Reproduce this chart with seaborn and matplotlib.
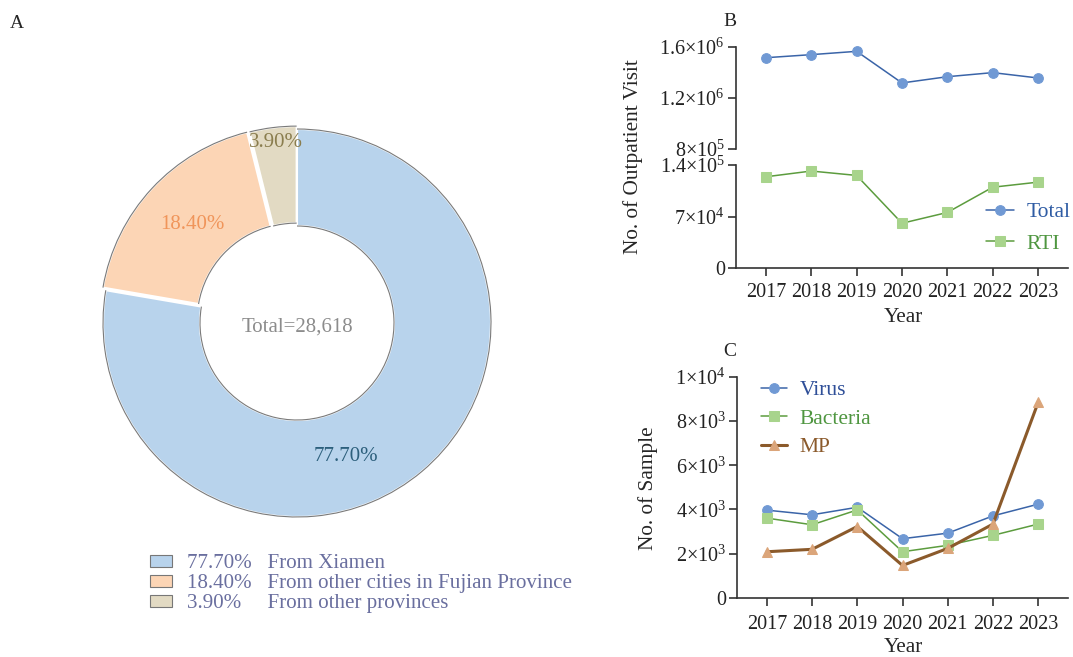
import matplotlib
matplotlib.use("Agg")
import matplotlib.pyplot as plt
from matplotlib.patches import Arc, Patch
import seaborn as sns

# ---- data ----
years = [2017, 2018, 2019, 2020, 2021, 2022, 2023]
total_visits = [1516000, 1540000, 1566000, 1318000, 1367000, 1399000, 1357000]
rti_visits = [124000, 131800, 125800, 60800, 75500, 109800, 116700]

virus = [3970, 3760, 4100, 2680, 2930, 3710, 4240]
bacteria = [3610, 3310, 3980, 2090, 2380, 2830, 3340]
mp = [2090, 2200, 3230, 1470, 2240, 3340, 8840]

origin_share = [77.7, 18.4, 3.9]
origin_names = ["From Xiamen", "From other cities in Fujian Province", "From other provinces"]
total_samples = 28618

top_ticks = [8e5, 1.2e6, 1.6e6]
top_ticklabels = ["8×10$^{5}$", "1.2×10$^{6}$", "1.6×10$^{6}$"]
low_ticks = [0, 7e4, 1.4e5]
low_ticklabels = ["0", "7×10$^{4}$", "1.4×10$^{5}$"]
c_ticks = [0, 2000, 4000, 6000, 8000, 10000]
c_ticklabels = ["0", "2×10$^{3}$", "4×10$^{3}$", "6×10$^{3}$", "8×10$^{3}$", "1×10$^{4}$"]

sns.set_style("ticks")
plt.rcParams["font.family"] = ["Liberation Serif", "DejaVu Serif"]
plt.rcParams["mathtext.fontset"] = "custom"
plt.rcParams["mathtext.rm"] = "Liberation Serif"
plt.rcParams["mathtext.it"] = "Liberation Serif:italic"

W, H = 1073, 657
fig = plt.figure(figsize=(W / 100, H / 100), dpi=100)


def px_axes(x0, y0, x1, y1):
    # pixel box (top-left origin) -> figure fraction axes
    return fig.add_axes([x0 / W, 1 - y1 / H, (x1 - x0) / W, (y1 - y0) / H])


spine_col = "#333333"

# ---- panel A: donut ----
pie_cols = ["#b8d3ec", "#fcd5b5", "#e2dac3"]
pct_cols = ["#2c5f7c", "#f0955a", "#8a7d4e"]
ax_a = px_axes(97, 123, 497, 523)
wedges, _ = ax_a.pie(origin_share, colors=pie_cols, startangle=90, counterclock=False,
                     explode=[0, 0.02, 0.015], radius=1,
                     wedgeprops=dict(width=0.5, edgecolor="white", linewidth=1.5))
for w in wedges:
    cx, cy = w.center
    for rr in [w.r, w.r - w.width]:
        ax_a.add_patch(Arc((cx, cy), 2 * rr, 2 * rr, theta1=w.theta1, theta2=w.theta2,
                           color="#7a7a7a", lw=0.8))
ax_a.set_xlim(-1.031, 1.031)
ax_a.set_ylim(-1.031, 1.031)
ax_a.axis("off")

label_pos = [(0.25, -0.69), (-0.54, 0.51), (-0.11, 0.93)]
for share, pos, col in zip(origin_share, label_pos, pct_cols):
    ax_a.text(pos[0], pos[1], f"{share:.2f}%", color=col, fontsize=15, ha="center", va="center")
ax_a.text(0, -0.02, f"Total={total_samples:,}", color="#8c8c8c", fontsize=15,
          ha="center", va="center")

leg_labels = [f"{s:.2f}%   {n}" if s >= 10 else f"{s:.2f}%     {n}"
              for s, n in zip(origin_share, origin_names)]
leg_handles = [Patch(facecolor=c, edgecolor="#777777", lw=0.8) for c in pie_cols]
leg_a = fig.legend(leg_handles, leg_labels, loc="upper left", bbox_to_anchor=(150 / W, 1 - 554 / H),
                   frameon=False, fontsize=15.1, handlelength=1.05, handleheight=0.5,
                   handletextpad=0.7, labelspacing=0.05, borderaxespad=0, borderpad=0)
for t in leg_a.get_texts():
    t.set_color("#6a6f9f")

fig.text(17 / W, 1 - 23 / H, "A", fontsize=14, ha="center", va="center")
fig.text(730 / W, 1 - 21 / H, "B", fontsize=14, ha="center", va="center")
fig.text(730 / W, 1 - 352 / H, "C", fontsize=14, ha="center", va="center")


def style_axis(ax, ticks, ticklabels, lim):
    ax.set_ylim(*lim)
    ax.set_yticks(ticks)
    ax.set_yticklabels(ticklabels)
    ax.set_xlim(2016.34, 2023.66)
    for s in ["top", "right"]:
        ax.spines[s].set_visible(False)
    for s in ["left", "bottom"]:
        ax.spines[s].set_color(spine_col)
        ax.spines[s].set_linewidth(1.2)
    ax.tick_params(direction="out", length=6, width=1.2, color=spine_col,
                   labelsize=14.5, pad=2, labelcolor="#222222")
    ax.set_xlabel("")
    ax.set_ylabel("")


blue_line, blue_mk = "#3a64a8", "#7099d4"
green_line, green_mk = "#5c9c3e", "#a8d48c"
brown_line, brown_mk = "#8b5a2b", "#dba57a"

# ---- panel B: broken axis ----
ax_top = px_axes(736, 47, 1068, 149)
ax_low = px_axes(736, 165, 1068, 268)
sns.lineplot(x=years, y=total_visits, ax=ax_top, color=blue_line, linewidth=1.1, marker="o",
             markersize=7, markerfacecolor=blue_mk, markeredgecolor=blue_mk,
             label="Total", legend=False, clip_on=False)
sns.lineplot(x=years, y=rti_visits, ax=ax_low, color=green_line, linewidth=1.1, marker="s",
             markersize=6.5, markerfacecolor=green_mk, markeredgecolor=green_mk,
             label="RTI", legend=False, clip_on=False)
style_axis(ax_top, top_ticks, top_ticklabels, (8e5, 1.6e6))
style_axis(ax_low, low_ticks, low_ticklabels, (0, 1.4e5))
ax_top.spines["bottom"].set_visible(False)
ax_top.tick_params(axis="x", bottom=False, labelbottom=False)
ax_low.set_xticks(years)
ax_low.set_xticklabels([str(y) for y in years])
ax_low.tick_params(axis="x", pad=5)

hb = ax_top.get_lines() + ax_low.get_lines()
leg_b = fig.legend(hb, ["Total", "RTI"], loc="center left", bbox_to_anchor=(986 / W, 1 - 228 / H),
                   frameon=False, fontsize=15.5, handlelength=1.3, handletextpad=0.6,
                   labelspacing=0.55, borderaxespad=0, borderpad=0)
for t, c in zip(leg_b.get_texts(), ["#2f5ca4", "#4f9640"]):
    t.set_color(c)

fig.text(633 / W, 1 - 157 / H, "No. of Outpatient Visit", rotation=90, fontsize=15.3,
         ha="center", va="center")
fig.text(903 / W, 1 - 318 / H, "Year", fontsize=15.3, ha="center", va="center")

# ---- panel C ----
ax_c = px_axes(737, 376.7, 1068, 598)
sns.lineplot(x=years, y=virus, ax=ax_c, color=blue_line, linewidth=1.1, marker="o",
             markersize=7, markerfacecolor=blue_mk, markeredgecolor=blue_mk,
             label="Virus", legend=False, clip_on=False)
sns.lineplot(x=years, y=bacteria, ax=ax_c, color=green_line, linewidth=1.1, marker="s",
             markersize=6.5, markerfacecolor=green_mk, markeredgecolor=green_mk,
             label="Bacteria", legend=False, clip_on=False)
sns.lineplot(x=years, y=mp, ax=ax_c, color=brown_line, linewidth=2.2, marker="^",
             markersize=7.5, markerfacecolor=brown_mk, markeredgecolor=brown_mk,
             label="MP", legend=False, clip_on=False)
style_axis(ax_c, c_ticks, c_ticklabels, (0, 10000))
ax_c.set_xticks(years)
ax_c.set_xticklabels([str(y) for y in years])
ax_c.tick_params(axis="x", pad=6)

leg_c = ax_c.legend(loc="upper left", bbox_to_anchor=((761 - 737) / 331, 1 - (380 - 376.7) / 221.3),
                    frameon=False, fontsize=15.5, handlelength=1.2, handletextpad=0.6,
                    labelspacing=0.4, borderaxespad=0, borderpad=0)
for t, c in zip(leg_c.get_texts(), ["#2f4f98", "#4f9640", "#8b5a2b"]):
    t.set_color(c)

fig.text(648 / W, 1 - 488 / H, "No. of Sample", rotation=90, fontsize=15.3,
         ha="center", va="center")
fig.text(903 / W, 1 - 648 / H, "Year", fontsize=15.3, ha="center", va="center")

fig.savefig("out.png", dpi=100, facecolor="white")
